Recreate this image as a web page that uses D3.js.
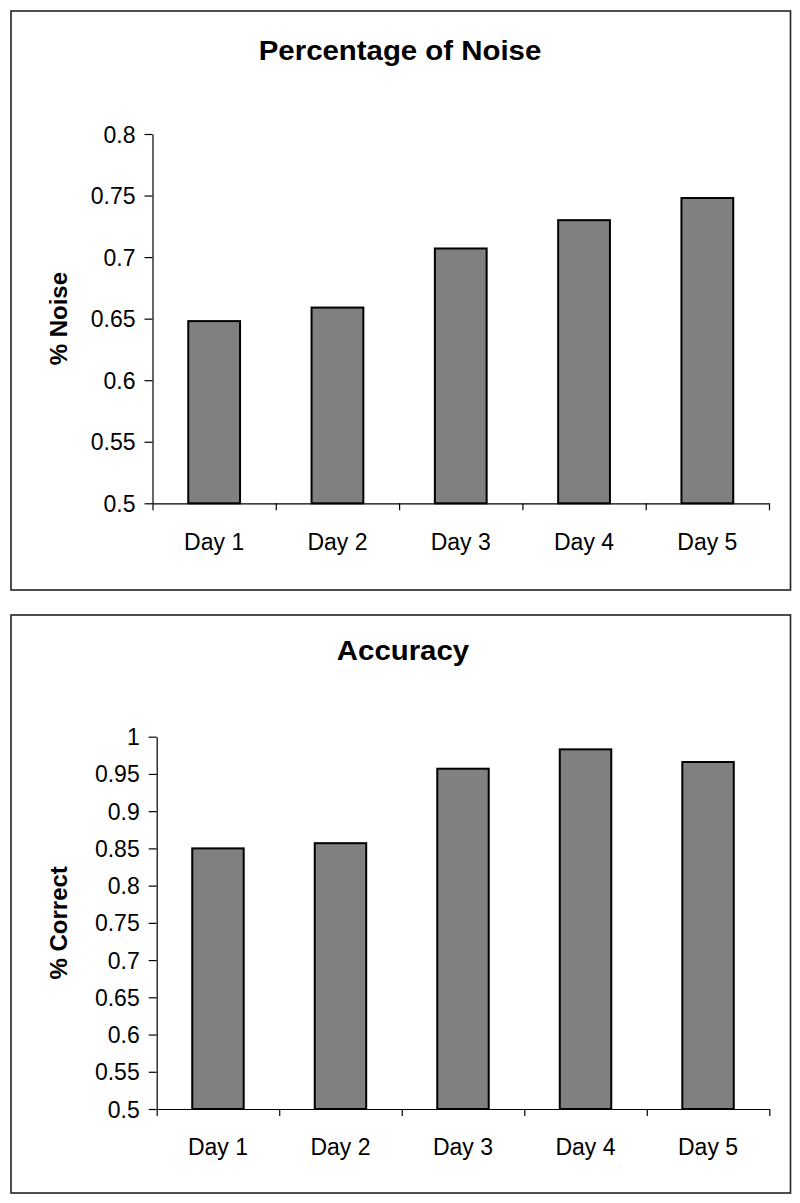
<!DOCTYPE html>
<html><head><meta charset="utf-8">
<script src="https://cdn.jsdelivr.net/npm/d3@7"></script>
<style>
html,body{margin:0;padding:0;background:#fff;}
svg{display:block;font-family:"Liberation Sans",Arial,sans-serif;}
</style></head>
<body>
<svg id="chart" width="800" height="1203"></svg>
<script>
const categories = ["Day 1", "Day 2", "Day 3", "Day 4", "Day 5"];
const noiseValues = [0.648, 0.659, 0.707, 0.730, 0.748];
const accuracyValues = [0.850, 0.857, 0.957, 0.983, 0.966];
const noiseTicks = [0.5, 0.55, 0.6, 0.65, 0.7, 0.75, 0.8];
const accuracyTicks = [0.5, 0.55, 0.6, 0.65, 0.7, 0.75, 0.8, 0.85, 0.9, 0.95, 1];
const titles = ["Percentage of Noise", "Accuracy"];
const yTitles = ["% Noise", "% Correct"];

const svg = d3.select("#chart");

const panels = [
  {box:[11,11,790.5,590], x0:152.5, x1:769, yTop:134, yBot:503.3, dom:[0.5,0.8], vals:noiseValues, ticks:noiseTicks, title:titles[0], ytitle:yTitles[0], titleY:60, catY:550, ytx:58, tcx:400},
  {box:[11,615,790.5,1193], x0:156.7, x1:769.3, yTop:736.7, yBot:1109, dom:[0.5,1.0], vals:accuracyValues, ticks:accuracyTicks, title:titles[1], ytitle:yTitles[1], titleY:660, catY:1155, ytx:58, tcx:403}
];

const fmt = d => String(+d.toFixed(2));

panels.forEach(p => {
  const g = svg.append("g");
  g.append("rect").attr("x",p.box[0]).attr("y",p.box[1])
    .attr("width",p.box[2]-p.box[0]).attr("height",p.box[3]-p.box[1])
    .attr("fill","#fff").attr("stroke","#222").attr("stroke-width",1.6);

  const x = d3.scaleBand().domain(categories).range([p.x0,p.x1]).paddingInner(0.58).paddingOuter(0.29);
  const xb = d3.scaleLinear().domain([0,categories.length]).range([p.x0,p.x1]);
  const y = d3.scaleLinear().domain(p.dom).range([p.yBot,p.yTop]);

  g.selectAll("rect.bar").data(p.vals).join("rect").attr("class","bar")
    .attr("x",(d,i)=>x(categories[i])).attr("width",x.bandwidth())
    .attr("y",d=>y(d)).attr("height",d=>y(p.dom[0])-y(d))
    .attr("fill","#808080").attr("stroke","#000").attr("stroke-width",2);

  const ya = g.append("g").attr("transform",`translate(${p.x0},0)`)
    .call(d3.axisLeft(y).tickValues(p.ticks).tickSize(8).tickSizeOuter(0).tickFormat(fmt));
  ya.select(".domain").attr("stroke","#000").attr("stroke-width",1.2);
  ya.selectAll(".tick line").attr("stroke","#000").attr("stroke-width",1.2);
  ya.selectAll(".tick text").each(function(){
    d3.select(this).attr("x",-17).attr("dy",null).attr("font-size",23).attr("fill","#000")
     .attr("font-family","'Liberation Sans',Arial,sans-serif")
     .attr("text-anchor","end").attr("dominant-baseline","central");
  });

  const xa = g.append("g").attr("transform",`translate(0,${p.yBot})`)
    .call(d3.axisBottom(xb).tickValues(d3.range(categories.length+1)).tickSize(7).tickSizeOuter(0).tickFormat(""));
  xa.select(".domain").attr("stroke","#000").attr("stroke-width",1.2);
  xa.selectAll(".tick line").attr("stroke","#000").attr("stroke-width",1.2);

  g.selectAll("text.cat").data(categories).join("text").attr("class","cat")
    .attr("x",d=>x(d)+x.bandwidth()/2).attr("y",p.catY)
    .attr("text-anchor","middle").attr("font-size",23).attr("fill","#000")
    .text(d=>d);

  g.append("text").attr("transform",`translate(${p.tcx},${p.titleY}) scale(1.05,1)`)
    .attr("text-anchor","middle").attr("font-size",28).attr("font-weight","bold").attr("fill","#000")
    .text(p.title);

  g.append("text").attr("transform",`translate(${p.ytx},${(p.yTop+p.yBot)/2}) rotate(-90)`)
    .attr("text-anchor","middle").attr("dominant-baseline","central")
    .attr("font-size",24).attr("font-weight","bold").attr("fill","#000")
    .text(p.ytitle);
});
</script>
</body></html>
